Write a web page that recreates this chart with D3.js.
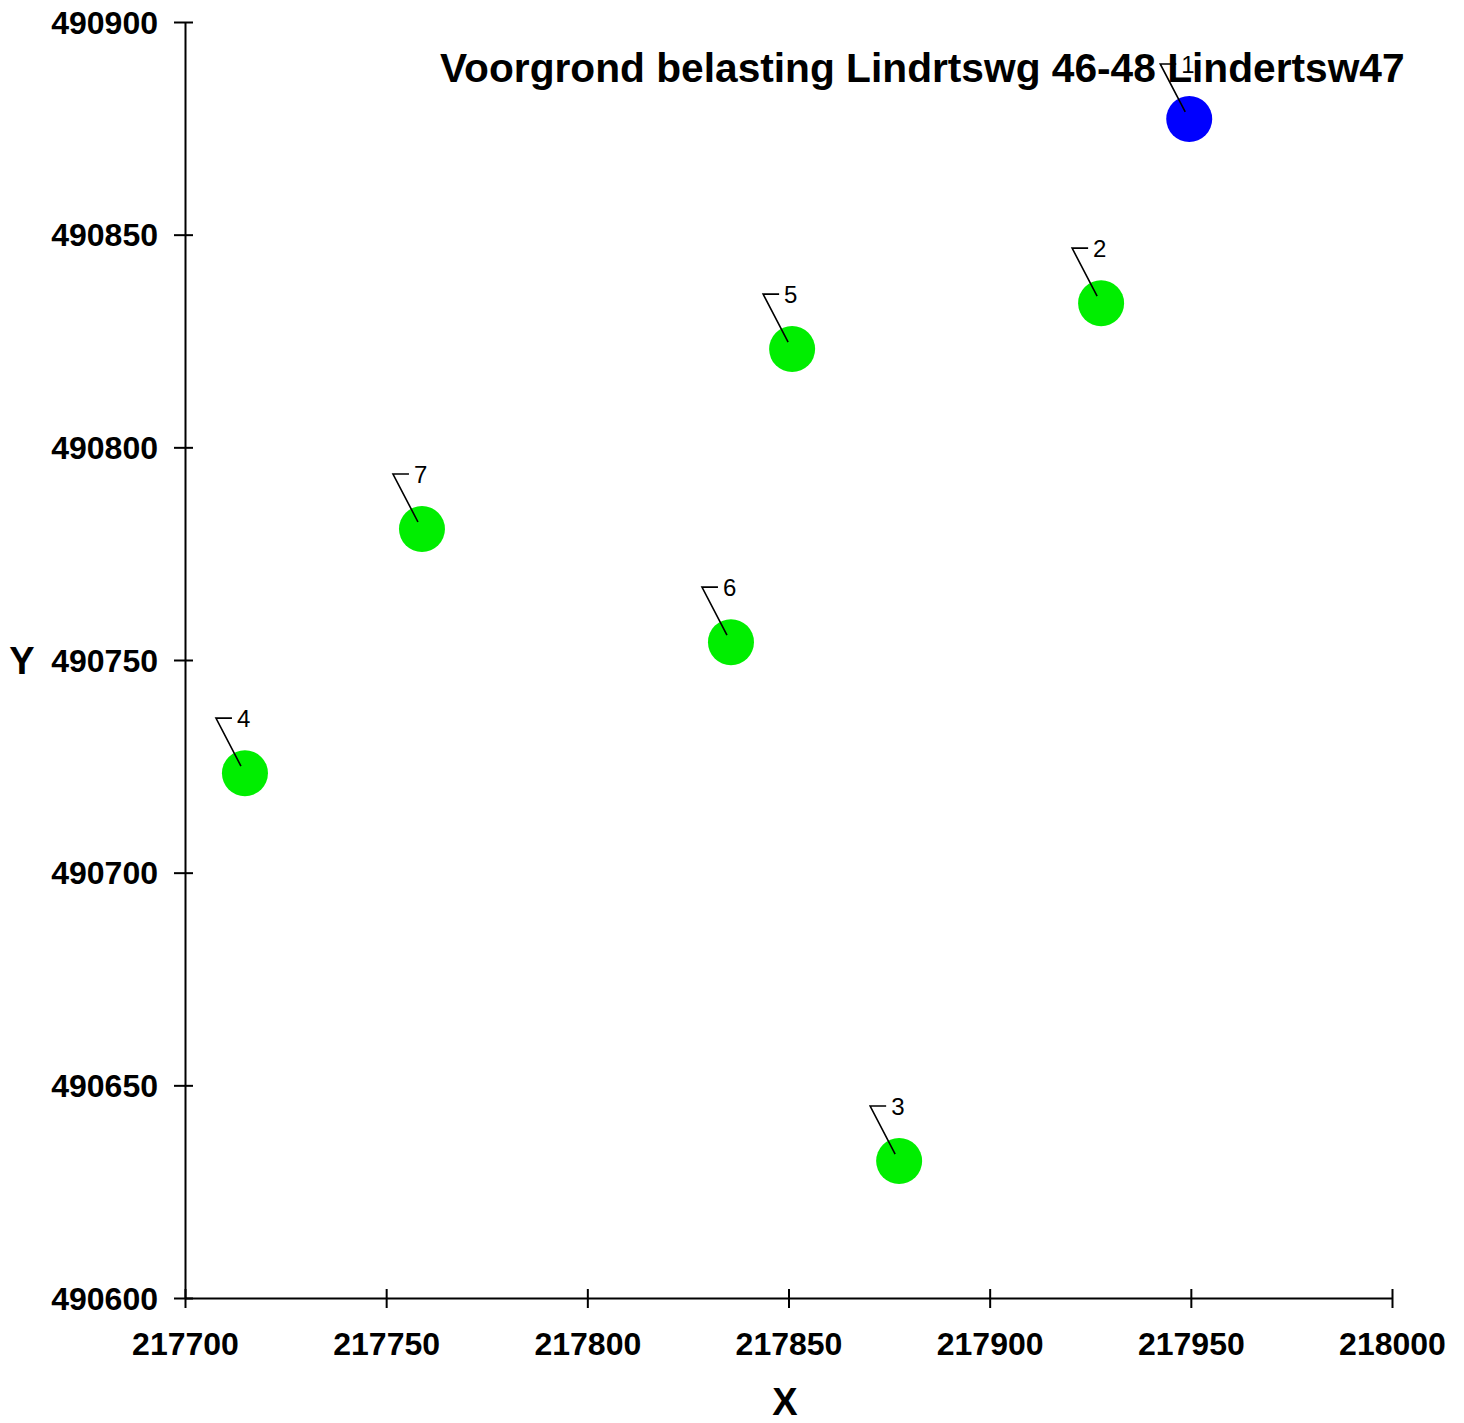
<!DOCTYPE html>
<html><head><meta charset="utf-8">
<script src="https://cdn.jsdelivr.net/npm/d3@7"></script>
<style>body{margin:0;background:#fff;}svg{display:block;font-family:"Liberation Sans",Arial,sans-serif;}</style>
</head><body>
<script>
const pointIds = ["1","2","3","4","5","6","7"];
const xValues = [217949.6, 217927.7, 217877.5, 217714.9, 217850.9, 217835.7, 217758.9];
const yValues = [490877.2, 490833.9, 490632.2, 490723.4, 490823.1, 490754.2, 490780.8];
const pointColors = ["#0000ff","#00ee00","#00ee00","#00ee00","#00ee00","#00ee00","#00ee00"];
const xTicks = [217700, 217750, 217800, 217850, 217900, 217950, 218000];
const yTicks = [490600, 490650, 490700, 490750, 490800, 490850, 490900];
const title = "Voorgrond belasting Lindrtswg 46-48 Lindertsw47";

const W = 1464, H = 1423;
const svg = d3.select("body").append("svg").attr("width", W).attr("height", H);
const x = d3.scaleLinear().domain([217700, 218000]).range([185, 1392]);
const y = d3.scaleLinear().domain([490600, 490900]).range([1298, 22]);

const xAxis = svg.append("g").attr("transform", "translate(0,1298)")
  .call(d3.axisBottom(x).tickValues(xTicks).tickFormat(d3.format("d")).tickSize(10).tickSizeOuter(0));
xAxis.selectAll(".tick line").attr("y1", -9).attr("y2", 10);
xAxis.selectAll("text").attr("dy", 0).attr("y", 57).style("font-size", "32px").style("font-weight", "bold").attr("fill", "#000");

const yAxis = svg.append("g").attr("transform", "translate(185,0)")
  .call(d3.axisLeft(y).tickValues(yTicks).tickFormat(d3.format("d")).tickSize(10).tickSizeOuter(0));
yAxis.selectAll(".tick line").attr("x1", -11).attr("x2", 8);
yAxis.selectAll("text").attr("x", -27).attr("dy", "0.35em").style("font-size", "32px").style("font-weight", "bold").attr("fill", "#000");
svg.selectAll(".domain").attr("stroke", "#000").attr("stroke-width", 2);
svg.selectAll(".tick line").attr("stroke", "#000").attr("stroke-width", 2);

svg.append("text").attr("x", 785).attr("y", 1415).attr("text-anchor", "middle")
  .style("font-size", "38px").style("font-weight", "bold").text("X");
svg.append("text").attr("x", 22).attr("y", 674).attr("text-anchor", "middle")
  .style("font-size", "38px").style("font-weight", "bold").text("Y");

const pts = pointIds.map((id, i) => ({id, x: xValues[i], y: yValues[i], c: pointColors[i]}));

svg.append("g").selectAll("circle").data(pts).join("circle")
  .attr("cx", d => x(d.x)).attr("cy", d => y(d.y)).attr("r", 23).attr("fill", d => d.c);

svg.append("text").attr("x", 440).attr("y", 82)
  .style("font-size", "40.7px").style("font-weight", "bold").text(title);

const lab = svg.append("g");
pts.forEach(d => {
  const cx = x(d.x), cy = y(d.y);
  lab.append("polyline")
    .attr("points", [[cx-4, cy-7],[cx-29, cy-55],[cx-13, cy-55]].map(p => p.join(",")).join(" "))
    .attr("fill", "none").attr("stroke", "#000").attr("stroke-width", 1.6);
  lab.append("text").attr("x", cx-8).attr("y", cy-46).style("font-size", "24px").text(d.id);
});
</script>
</body></html>
